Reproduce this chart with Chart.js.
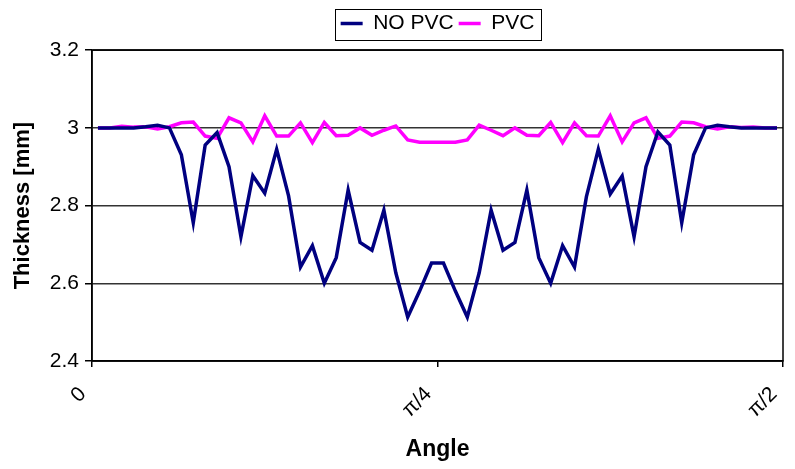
<!DOCTYPE html>
<html>
<head>
<meta charset="utf-8">
<script src="https://cdn.jsdelivr.net/npm/chart.js@4.4.1/dist/chart.umd.min.js"></script>
<style>
  html, body { margin: 0; padding: 0; background: #fff; }
  #wrap { width: 795px; height: 469px; }
</style>
</head>
<body>
<div id="wrap"><canvas id="lineChart" width="795" height="469"></canvas></div>
<script>
    "use strict";

    // thickness along the angle, 58 samples from 0 to pi/2
    var noPvc = [3.0, 3.0, 3.0, 3.0, 3.003, 3.007, 3.0, 2.931, 2.756, 2.956, 2.988, 2.9, 2.72, 2.877, 2.832,
        2.945, 2.825, 2.642, 2.697, 2.6, 2.666, 2.84, 2.705, 2.685, 2.788, 2.627, 2.513, 2.58, 2.652,
        2.652, 2.58, 2.513, 2.627, 2.788, 2.685, 2.705, 2.84, 2.666, 2.6, 2.697, 2.642, 2.823, 2.945, 2.83,
        2.876, 2.72, 2.9, 2.99, 2.956, 2.756, 2.931, 3.0, 3.007, 3.003, 3.0, 3.0, 3.0, 3.0];
    var pvc = [3.0, 3.0, 3.004, 3.002, 3.003, 2.997, 3.003, 3.013, 3.015, 2.979, 2.973, 3.026, 3.013, 2.964, 3.031,
        2.979, 2.979, 3.013, 2.962, 3.014, 2.98, 2.981, 3.0, 2.981, 2.994, 3.005, 2.969, 2.963, 2.963,
        2.963, 2.963, 2.969, 3.007, 2.994, 2.98, 3.0, 2.981, 2.98, 3.014, 2.962, 3.013, 2.98, 2.979, 3.031,
        2.964, 3.013, 3.026, 2.973, 2.979, 3.015, 3.013, 3.003, 2.997, 3.003, 3.001, 3.002, 3.0, 3.0];
    var tickValues = [0, Math.PI / 4, Math.PI / 2];
    var tickLabels = ["0", "π/4", "π/2"];
    var yTicks = [2.4, 2.6, 2.8, 3.0, 3.2];
    var yLabels = ["2.4", "2.6", "2.8", "3", "3.2"];

    // each sample sits in the middle of its slice of the angle range
    var step = (Math.PI / 2) / noPvc.length;
    function toPoints(arr) {
        return arr.map(function (v, i) { return { x: (i + 0.5) * step, y: v }; });
    }

    var FONT = "'Liberation Sans', Arial, sans-serif";

    // plot frame + a box around the legend items only
    var boxPlugin = {
        id: "boxes",
        afterDraw: function (chart) {
            var c = chart.ctx, a = chart.chartArea;
            var hb = chart.legend.legendHitBoxes;
            c.save();
            c.strokeStyle = "#000";
            c.lineWidth = 1.5;
            c.strokeRect(a.left, a.top, a.right - a.left, a.bottom - a.top);
            if (hb && hb.length) {
                var first = hb[0], last = hb[hb.length - 1];
                var l = Math.round(first.left) - 6;
                var r = Math.round(last.left + last.width) + 7;
                var t = Math.round(first.top + first.height / 2) - 15;
                c.lineWidth = 1;
                c.strokeRect(l + 0.5, t + 0.5, r - l, 31);
            }
            c.restore();
        }
    };

    var ctx = document.getElementById("lineChart");
    var myChart = new Chart(ctx, {
        type: 'line',
        data: {
            datasets: [{
                label: "NO PVC",
                data: toPoints(noPvc),
                borderColor: "#000080",
                backgroundColor: "#000080",
                borderWidth: 3.5,
                pointRadius: 0,
                tension: 0
            }, {
                label: "PVC",
                data: toPoints(pvc),
                borderColor: "#ff00ff",
                backgroundColor: "#ff00ff",
                borderWidth: 3.5,
                pointRadius: 0,
                tension: 0
            }]
        },
        options: {
            responsive: false,
            animation: false,
            layout: { padding: { top: 8, right: 12, left: 0, bottom: 0 } },
            plugins: {
                tooltip: { enabled: false },
                legend: {
                    position: 'top',
                    fullSize: false,
                    labels: {
                        color: "#000",
                        font: { family: FONT, size: 21 },
                        usePointStyle: true,
                        pointStyle: 'line',
                        pointStyleWidth: 22,
                        boxWidth: 22,
                        padding: 5
                    }
                },
                // empty spacer between legend and plot
                subtitle: {
                    display: true,
                    text: "",
                    position: 'top',
                    weight: 500,
                    fullSize: false,
                    font: { size: 1 },
                    padding: { top: 0, bottom: 5 }
                }
            },
            scales: {
                x: {
                    type: 'linear',
                    min: 0,
                    max: Math.PI / 2,
                    afterBuildTicks: function (scale) {
                        scale.ticks = tickValues.map(function (v) { return { value: v }; });
                    },
                    afterFit: function (scale) {
                        scale.height = 108;
                        scale.paddingLeft = 0;
                        scale.paddingRight = 0;
                    },
                    ticks: {
                        color: "#000",
                        minRotation: 45,
                        maxRotation: 45,
                        padding: 15,
                        labelOffset: -9,
                        font: { family: FONT, size: 21 },
                        callback: function (v, i) { return tickLabels[i]; }
                    },
                    grid: { drawOnChartArea: false, tickLength: 6, color: "#000", lineWidth: 1.5 },
                    border: { color: "#000", width: 1.5 },
                    title: {
                        display: true,
                        text: "Angle",
                        color: "#000",
                        font: { family: FONT, size: 23, weight: 'bold' },
                        padding: { top: 4, bottom: 6 }
                    }
                },
                y: {
                    min: 2.4,
                    max: 3.2,
                    afterBuildTicks: function (scale) {
                        scale.ticks = yTicks.map(function (v) { return { value: v }; });
                    },
                    afterFit: function (scale) { scale.width = 92; },
                    ticks: {
                        color: "#000",
                        padding: 6,
                        font: { family: FONT, size: 21 },
                        callback: function (v, i) { return yLabels[i]; }
                    },
                    grid: { color: "#333", lineWidth: 1.5, tickLength: 7, tickColor: "#000" },
                    border: { color: "#000", width: 1.5 },
                    title: {
                        display: true,
                        text: "Thickness [mm]",
                        color: "#000",
                        font: { family: FONT, size: 22, weight: 'bold' },
                        padding: { top: 10, bottom: 0 }
                    }
                }
            }
        },
        plugins: [boxPlugin]
    });
</script>
</body>
</html>
